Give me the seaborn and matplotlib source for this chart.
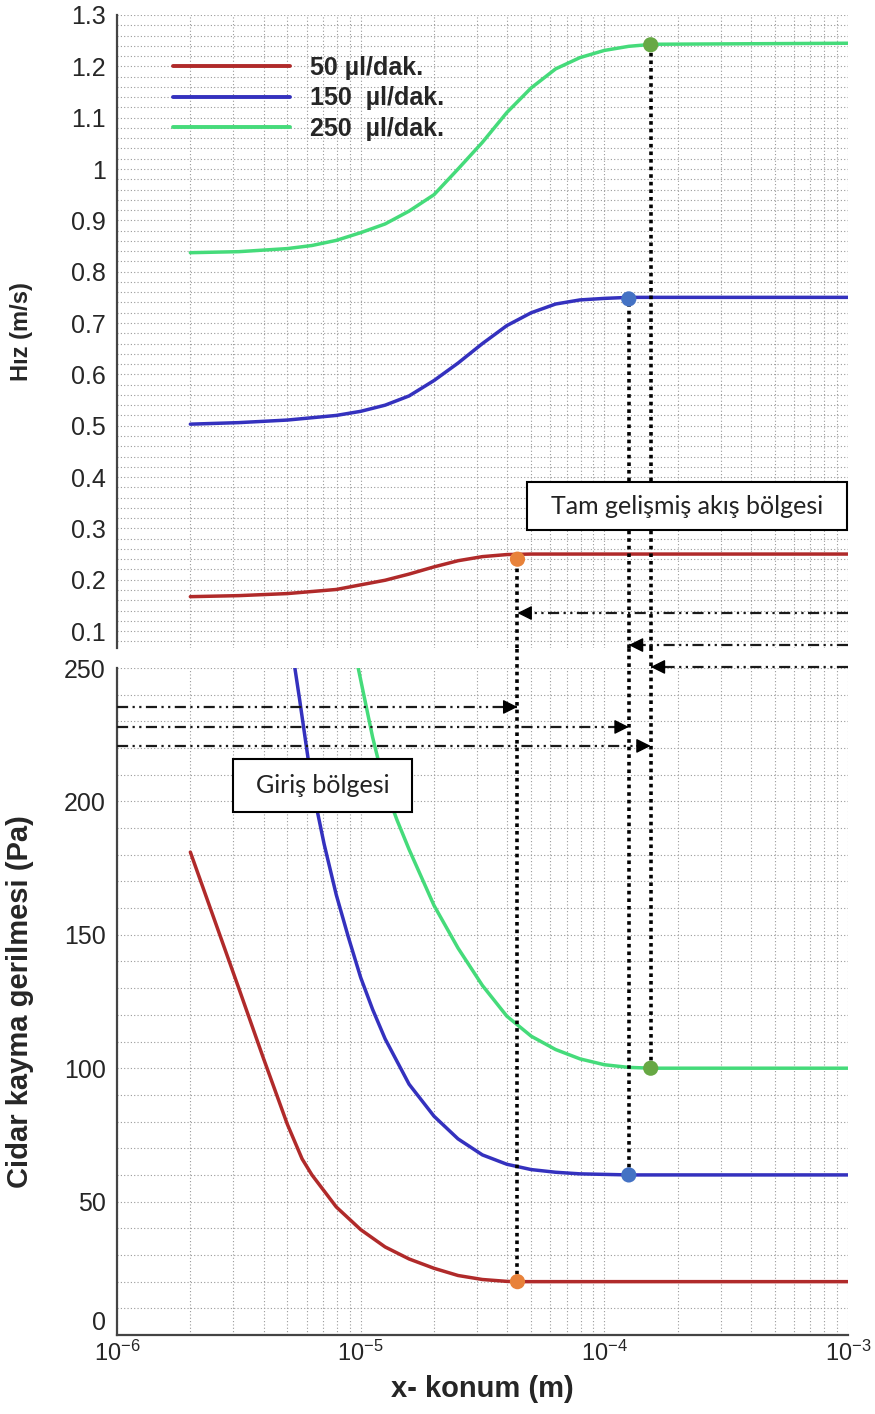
import numpy as np
import pandas as pd
import matplotlib
matplotlib.use("Agg")
import matplotlib.pyplot as plt
import seaborn as sns
from matplotlib.ticker import MultipleLocator, LogLocator, FuncFormatter, LogFormatterSciNotation, NullFormatter
from matplotlib.patches import Rectangle

# ---------------- data ----------------
flows = ["50 µl/dak.", "150  µl/dak.", "250  µl/dak."]
line_colors = ["#B02A2A", "#3431BE", "#45DB7A"]
marker_colors = ["#E8823A", "#4472C4", "#67A844"]

# velocity (top panel)
x_v50 = [2.0e-6, 3.16e-6, 5.0e-6, 7.94e-6, 1.0e-5, 1.26e-5, 1.58e-5, 2.0e-5, 2.51e-5, 3.16e-5, 3.98e-5, 5.01e-5, 1.0e-3]
v_50 = [0.167, 0.169, 0.173, 0.181, 0.190, 0.199, 0.211, 0.225, 0.237, 0.245, 0.249, 0.250, 0.250]

x_v150 = [2.0e-6, 3.16e-6, 5.0e-6, 7.94e-6, 1.0e-5, 1.26e-5, 1.58e-5, 2.0e-5, 2.51e-5, 3.16e-5, 3.98e-5,
          5.01e-5, 6.31e-5, 7.94e-5, 1.0e-4, 1.26e-4, 1.0e-3]
v_150 = [0.503, 0.506, 0.511, 0.520, 0.528, 0.540, 0.558, 0.588, 0.622, 0.660, 0.695,
         0.720, 0.737, 0.745, 0.748, 0.750, 0.750]

x_v250 = [2.0e-6, 3.16e-6, 5.0e-6, 6.31e-6, 7.94e-6, 1.0e-5, 1.26e-5, 1.58e-5, 2.0e-5, 2.51e-5, 3.16e-5,
          3.98e-5, 5.01e-5, 6.31e-5, 7.94e-5, 1.0e-4, 1.26e-4, 1.58e-4, 1.0e-3]
v_250 = [0.837, 0.839, 0.845, 0.851, 0.861, 0.876, 0.893, 0.918, 0.950, 1.000, 1.052,
         1.110, 1.158, 1.195, 1.217, 1.231, 1.239, 1.243, 1.245]

# wall shear stress (bottom panel)
x_t50 = [2.0e-6, 3.16e-6, 3.98e-6, 5.0e-6, 5.75e-6, 6.31e-6, 7.94e-6, 1.0e-5, 1.26e-5, 1.58e-5, 2.0e-5,
         2.51e-5, 3.16e-5, 3.98e-5, 4.37e-5, 1.0e-3]
t_50 = [181, 130, 104, 79, 66, 60, 48, 39.5, 33, 28.5, 25, 22.3, 20.8, 20.1, 20, 20]

x_t150 = [5.37e-6, 5.62e-6, 6.31e-6, 7.08e-6, 7.94e-6, 8.91e-6, 1.0e-5, 1.12e-5, 1.26e-5, 1.58e-5, 2.0e-5,
          2.51e-5, 3.16e-5, 3.98e-5, 5.01e-5, 6.31e-5, 7.94e-5, 1.26e-4, 1.0e-3]
t_150 = [250, 238, 206, 184, 165, 149, 134, 122, 111, 94, 82, 73.5, 67.5, 64, 62, 61, 60.4, 60, 60]

x_t250 = [9.77e-6, 1.12e-5, 1.26e-5, 1.41e-5, 1.58e-5, 2.0e-5, 2.51e-5, 3.16e-5, 3.98e-5, 5.01e-5,
          6.31e-5, 7.94e-5, 1.0e-4, 1.26e-4, 1.58e-4, 1.0e-3]
t_250 = [250, 224, 205, 193, 182, 161, 145, 131, 119.5, 112, 107, 103.5, 101.3, 100.3, 100, 100]

# fully developed flow onset points
dev_x = [4.4e-5, 1.26e-4, 1.55e-4]
dev_v = [0.240, 0.747, 1.242]
dev_t = [20, 60, 100]

top_yticks = [0.1, 0.2, 0.3, 0.4, 0.5, 0.6, 0.7, 0.8, 0.9, 1.0, 1.1, 1.2, 1.3]
bot_yticks = [0, 50, 100, 150, 200, 250]

# ---------------- frames ----------------
df_v = pd.concat([
    pd.DataFrame({"x": x_v50, "y": v_50, "flow": flows[0]}),
    pd.DataFrame({"x": x_v150, "y": v_150, "flow": flows[1]}),
    pd.DataFrame({"x": x_v250, "y": v_250, "flow": flows[2]}),
], ignore_index=True)
df_t = pd.concat([
    pd.DataFrame({"x": x_t50, "y": t_50, "flow": flows[0]}),
    pd.DataFrame({"x": x_t150, "y": t_150, "flow": flows[1]}),
    pd.DataFrame({"x": x_t250, "y": t_250, "flow": flows[2]}),
], ignore_index=True)
df_dev = pd.DataFrame({"x": dev_x, "v": dev_v, "t": dev_t, "flow": flows})

sns.set_style("white")
plt.rcParams["font.family"] = ["Liberation Sans", "DejaVu Sans"]
plt.rcParams["mathtext.fontset"] = "custom"
plt.rcParams["mathtext.rm"] = "Liberation Sans"
plt.rcParams["mathtext.it"] = "Liberation Sans:italic"
plt.rcParams["mathtext.bf"] = "Liberation Sans:bold"

W, H = 875, 1414
fig = plt.figure(figsize=(W / 100, H / 100), dpi=100)
L, R = 117, 848
ax_t = fig.add_axes([L / W, 1 - 648 / H, (R - L) / W, (648 - 15) / H])
ax_b = fig.add_axes([L / W, 1 - 1335 / H, (R - L) / W, (1335 - 668) / H])

pal = dict(zip(flows, line_colors))
mpal = dict(zip(flows, marker_colors))

sns.lineplot(data=df_v, x="x", y="y", hue="flow", palette=pal, ax=ax_t, lw=2.5,
             estimator=None, sort=False, legend=True, zorder=3)
sns.lineplot(data=df_t, x="x", y="y", hue="flow", palette=pal, ax=ax_b, lw=2.5,
             estimator=None, sort=False, legend=False, zorder=3)

# markers
sns.scatterplot(data=df_dev, x="x", y="v", hue="flow", palette=mpal, ax=ax_t, s=120,
                edgecolor="none", legend=False, zorder=6)
sns.scatterplot(data=df_dev, x="x", y="t", hue="flow", palette=mpal, ax=ax_b, s=120,
                edgecolor="none", legend=False, zorder=6)

grid_kw = dict(color="#9a9a9a", linestyle=(0, (1, 2)), lw=0.8)
for ax in (ax_t, ax_b):
    ax.set_xscale("log")
    ax.set_xlim(1e-6, 1e-3)
    ax.xaxis.set_major_locator(LogLocator(base=10, numticks=10))
    ax.xaxis.set_minor_locator(LogLocator(base=10, subs=np.arange(2, 10), numticks=20))
    ax.xaxis.set_minor_formatter(NullFormatter())
    ax.grid(which="both", axis="both", **grid_kw)
    ax.set_axisbelow(True)
    for s in ("top", "right"):
        ax.spines[s].set_visible(False)
    ax.spines["left"].set_linewidth(1.6)
    ax.spines["left"].set_color("#444444")
    ax.tick_params(which="major", direction="in", length=13, width=2.8, color="black",
                   labelsize=18, pad=8)
    ax.tick_params(which="minor", direction="in", length=7, width=1.0, color="#333333")

# top panel
ax_t.set_ylim(0.067, 1.3)
ax_t.set_yticks(top_yticks)
ax_t.yaxis.set_major_formatter(FuncFormatter(lambda v, p: f"{v:g}"))
ax_t.yaxis.set_minor_locator(MultipleLocator(0.02))
ax_t.spines["bottom"].set_visible(False)
ax_t.tick_params(axis="x", which="both", bottom=False, labelbottom=False)
ax_t.set_xlabel("")
ax_t.set_ylabel("Hız (m/s)", fontsize=17, fontweight="bold")
ax_t.yaxis.set_label_coords(-0.115, 0.5)

# bottom panel
ax_b.set_ylim(0, 250)
ax_b.set_yticks(bot_yticks)
ax_b.yaxis.set_minor_locator(MultipleLocator(10))
ax_b.spines["bottom"].set_linewidth(1.6)
ax_b.spines["bottom"].set_color("#444444")
ax_b.xaxis.set_major_formatter(LogFormatterSciNotation())
ax_b.tick_params(axis="x", which="major", pad=4, labelsize=17)
ax_b.set_ylabel("Cidar kayma gerilmesi (Pa)", fontsize=21, fontweight="bold")
ax_b.yaxis.set_label_coords(-0.113, 0.5)
ax_b.set_xlabel("x- konum (m)", fontsize=21, fontweight="bold", labelpad=7)
ax_b.yaxis.get_major_ticks()[0].label1.set_verticalalignment("bottom")

# legend
handles, labels = ax_t.get_legend_handles_labels()
leg = ax_t.legend(handles, labels, loc="upper left", bbox_to_anchor=(0.0766, 0.936),
                  frameon=False, borderpad=0, borderaxespad=0, handlelength=4.7,
                  handletextpad=0.8, labelspacing=0.27,
                  prop=dict(family="Liberation Sans", weight="bold", size=18))
for h in leg.get_lines():
    h.set_linewidth(2.8)

# vertical dotted connectors (top panel part and bottom panel part)
dot_kw = dict(color="black", lw=2.6, linestyle=(0, (1, 1.1)), zorder=4)
ymin_t = ax_t.get_ylim()[0]
for x, v, t in zip(dev_x, dev_v, dev_t):
    ax_t.vlines(x, ymin_t, v, clip_on=False, **dot_kw)
    ax_b.vlines(x, t, 257.5, clip_on=False, **dot_kw)

# dash-dot-dot arrows (bottom panel coordinates, extending above it)
arr_line = dict(color="#1a1a1a", lw=1.6, linestyle=(0, (5, 2, 1, 2, 1, 2)), clip_on=False, zorder=4)
left_levels = [270.6, 258.6, 250.4]
right_levels = [235.4, 227.9, 220.8]
for x, yl, yr in zip(dev_x, left_levels, right_levels):
    ax_b.plot([1e-3, x], [yl, yl], **arr_line)
    ax_b.annotate("", xy=(x, yl), xytext=(10, 0), textcoords="offset points",
                  arrowprops=dict(arrowstyle="-|>", color="black", lw=1, mutation_scale=22,
                                  shrinkA=0, shrinkB=0),
                  annotation_clip=False, zorder=5)
    ax_b.plot([1e-6, x], [yr, yr], **arr_line)
    ax_b.annotate("", xy=(x, yr), xytext=(-10, 0), textcoords="offset points",
                  arrowprops=dict(arrowstyle="-|>", color="black", lw=1, mutation_scale=22,
                                  shrinkA=0, shrinkB=0),
                  annotation_clip=False, zorder=5)

# text boxes
box_font = dict(family=["Lato", "DejaVu Sans"], size=18, color="#222222")
ax_t.add_patch(Rectangle((0.561, 0.1864), 0.4376, 0.0758, transform=ax_t.transAxes,
                         facecolor="white", edgecolor="black", lw=1.5, zorder=7, clip_on=False))
ax_t.text(0.561 + 0.4376 / 2, 0.1864 + 0.0758 / 2, "Tam gelişmiş akış bölgesi",
          transform=ax_t.transAxes, ha="center", va="center", zorder=8, fontdict=box_font)
ax_b.add_patch(Rectangle((0.1587, 0.784), 0.2449, 0.0796, transform=ax_b.transAxes,
                         facecolor="white", edgecolor="black", lw=1.5, zorder=7, clip_on=False))
ax_b.text(0.1587 + 0.2449 / 2, 0.784 + 0.0796 / 2, "Giriş bölgesi",
          transform=ax_b.transAxes, ha="center", va="center", zorder=8, fontdict=box_font)

fig.savefig("out.png", dpi=100)
